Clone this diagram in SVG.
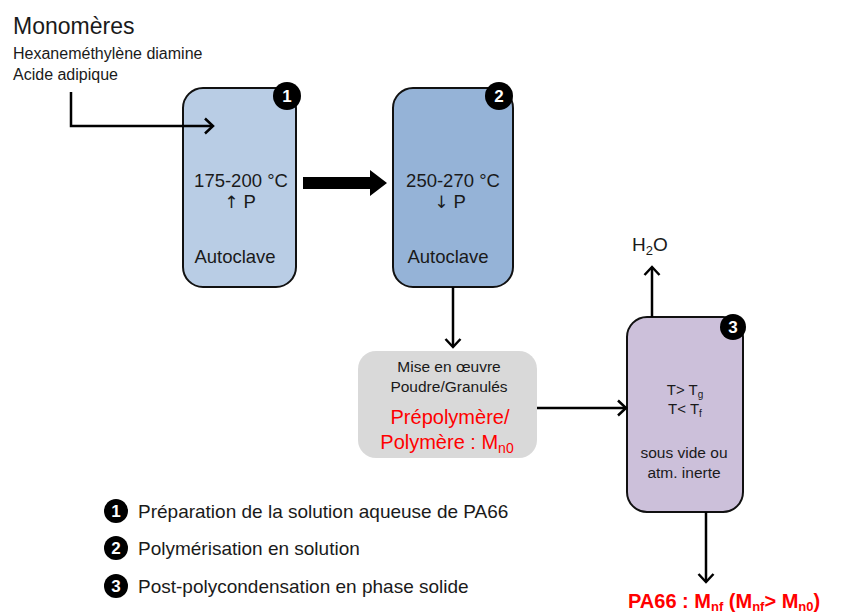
<svg xmlns="http://www.w3.org/2000/svg" width="842" height="615" viewBox="0 0 842 615">
<defs>
<style>
text{font-family:"Liberation Sans",Arial,sans-serif;fill:#1a1a1a}
.box{stroke:#111;stroke-width:2}
.c{text-anchor:middle}
.red{fill:#ff0000}
.badge{fill:#000}
.bt{fill:#fff;font-weight:bold;font-size:17px;text-anchor:middle}
.ln{fill:none;stroke:#000;stroke-width:2.5}
.arw{font-family:"DejaVu Sans",sans-serif;font-size:17px}
</style>
<marker id="ah" viewBox="0 0 12 18" refX="10" refY="9" markerWidth="12" markerHeight="18" markerUnits="userSpaceOnUse" orient="auto">
<path d="M2,1.5 L10,9 L2,16.5" fill="none" stroke="#000" stroke-width="2.5"/>
</marker>
</defs>
<rect width="842" height="615" fill="#fff"/>
<g id="monomeres">
<text x="13" y="34" font-size="23">Monomères</text>
<text x="13" y="59" font-size="16">Hexaneméthylène diamine</text>
<text x="13" y="80" font-size="16">Acide adipique</text>
</g>
<g id="autoclave1">
<rect class="box" x="183" y="88" width="113" height="199" rx="20" fill="#b9cde5"/>
<text class="c" x="241" y="187" font-size="18.5">175-200 °C</text>
<text class="c" x="240" y="208" font-size="18.5"><tspan class="arw">↑</tspan> P</text>
<text class="c" x="235" y="263" font-size="18.5">Autoclave</text>
<circle class="badge" cx="287" cy="96" r="14"/>
<text class="bt" x="287" y="102">1</text>
</g>
<g id="autoclave2">
<rect class="box" x="393" y="88" width="120" height="199" rx="20" fill="#95b3d7"/>
<text class="c" x="453" y="187" font-size="18.5">250-270 °C</text>
<text class="c" x="450" y="208" font-size="18.5"><tspan class="arw">↓</tspan> P</text>
<text class="c" x="448" y="263" font-size="18.5">Autoclave</text>
<circle class="badge" cx="499" cy="96" r="14"/>
<text class="bt" x="499" y="102">2</text>
</g>
<g id="miseenoeuvre">
<rect x="358" y="351" width="179" height="107" rx="18" fill="#d9d9d9"/>
<text class="c" x="449" y="372" font-size="15.5">Mise en œuvre</text>
<text class="c" x="449" y="392" font-size="15.5">Poudre/Granulés</text>
<text class="c red" x="450" y="424" font-size="20">Prépolymère/</text>
<text class="c red" x="447" y="449" font-size="20">Polymère : M<tspan font-size="14" dy="4">n0</tspan></text>
</g>
<g id="postpoly">
<rect class="box" x="627" y="317" width="116" height="195" rx="20" fill="#ccc0da"/>
<text class="c" x="685" y="395" font-size="15">T&gt; T<tspan font-size="10" dy="3">g</tspan></text>
<text class="c" x="685" y="414" font-size="15">T&lt; T<tspan font-size="10" dy="3">f</tspan></text>
<text class="c" x="684" y="458" font-size="15.5">sous vide ou</text>
<text class="c" x="684" y="478" font-size="15.5">atm. inerte</text>
<circle class="badge" cx="733" cy="327" r="13"/>
<text class="bt" x="733" y="333">3</text>
</g>
<g id="h2o">
<text x="632" y="251" font-size="19">H<tspan font-size="13" dy="4">2</tspan><tspan dy="-4">O</tspan></text>
</g>
<g id="pa66">
<text class="red" x="628" y="608" font-size="20" font-weight="bold">PA66 : M<tspan font-size="13" dy="3">nf</tspan><tspan dy="-3"> (M</tspan><tspan font-size="13" dy="3">nf</tspan><tspan dy="-3">&gt; M</tspan><tspan font-size="13" dy="3">n0</tspan><tspan dy="-3">)</tspan></text>
</g>
<g id="legend">
<circle class="badge" cx="116" cy="511" r="12"/>
<text class="bt" x="116" y="517" font-size="15">1</text>
<text x="138" y="518" font-size="19">Préparation de la solution aqueuse de PA66</text>
<circle class="badge" cx="116" cy="548" r="12"/>
<text class="bt" x="116" y="554" font-size="15">2</text>
<text x="138" y="555" font-size="19">Polymérisation en solution</text>
<circle class="badge" cx="116" cy="586" r="12"/>
<text class="bt" x="116" y="592" font-size="15">3</text>
<text x="138" y="593" font-size="19">Post-polycondensation en phase solide</text>
</g>
<g id="connectors">
<polyline class="ln" points="71,92 71,126 213,126" marker-end="url(#ah)"/>
<path d="M303,177 L370,177 L370,170 L387,183 L370,196 L370,189 L303,189 Z" fill="#000"/>
<line class="ln" x1="453" y1="287" x2="453" y2="347" marker-end="url(#ah)"/>
<line class="ln" x1="537" y1="408" x2="626" y2="408" marker-end="url(#ah)"/>
<line class="ln" x1="652" y1="317" x2="652" y2="267" marker-end="url(#ah)"/>
<line class="ln" x1="706" y1="512" x2="706" y2="582" marker-end="url(#ah)"/>
</g>
</svg>
